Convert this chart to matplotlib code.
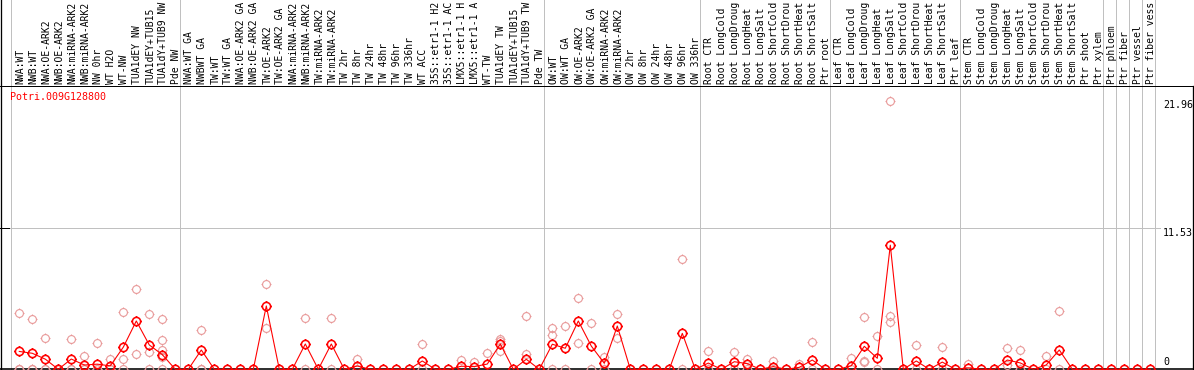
import matplotlib
matplotlib.use("Agg")
import matplotlib.pyplot as plt
from matplotlib.path import Path
import numpy as np

# ---------------- data ----------------
gene = "Potri.009G128800"

# sample labels as visible in the header (long names are cut at 14 characters)
labels = [
    "NWA:WT", "NWB:WT", "NWA:OE-ARK2", "NWB:OE-ARK2", "NWA:miRNA-ARK2", "NWB:miRNA-ARK2",
    "NW 0hr", "WT H2O", "WT-NW", "TUA1dEY NW", "TUA1dEY+TUB15", "TUA1dY+TUB9 NW", "Pde NW",
    "NWA:WT GA", "NWBWT GA", "TW:WT", "TW:WT GA", "NWA:OE-ARK2 GA", "NWB:OE-ARK2 GA",
    "TW:OE-ARK2", "TW:OE-ARK2 GA", "NWA:miRNA-ARK2", "NWB:miRNA-ARK2", "TW:miRNA-ARK2",
    "TW:miRNA-ARK2", "TW 2hr", "TW 8hr", "TW 24hr", "TW 48hr", "TW 96hr", "TW 336hr",
    "WT ACC", "35S::etr1-1 H2", "35S::etr1-1 AC", "LMX5::etr1-1 H", "LMX5::etr1-1 A",
    "WT-TW", "TUA1dEY TW", "TUA1dEY+TUB15", "TUA1dY+TUB9 TW", "Pde TW",
    "OW:WT", "OW:WT GA", "OW:OE-ARK2", "OW:OE-ARK2 GA", "OW:miRNA-ARK2", "OW:miRNA-ARK2",
    "OW 2hr", "OW 8hr", "OW 24hr", "OW 48hr", "OW 96hr", "OW 336hr",
    "Root CTR", "Root LongCold", "Root LongDroug", "Root LongHeat", "Root LongSalt",
    "Root ShortCold", "Root ShortDrou", "Root ShortHeat", "Root ShortSalt", "Ptr root",
    "Leaf CTR", "Leaf LongCold", "Leaf LongDroug", "Leaf LongHeat", "Leaf LongSalt",
    "Leaf ShortCold", "Leaf ShortDrou", "Leaf ShortHeat", "Leaf ShortSalt", "Ptr leaf",
    "Stem CTR", "Stem LongCold", "Stem LongDroug", "Stem LongHeat", "Stem LongSalt",
    "Stem ShortCold", "Stem ShortDrou", "Stem ShortHeat", "Stem ShortSalt",
    "Ptr shoot", "Ptr xylem", "Ptr phloem", "Ptr fiber", "Ptr vessel", "Ptr fiber vess",
]

means = [
    1.46, 1.31, 0.83, 0.0, 0.84, 0.35, 0.42, 0.28, 1.81, 3.95, 1.99, 1.20, 0.0,
    0.0, 1.58, 0.0, 0.0, 0.0, 0.0, 5.18, 0.0, 0.0, 2.07, 0.0, 2.07, 0.0, 0.27, 0.0, 0.0,
    0.0, 0.0, 0.68, 0.0, 0.0, 0.25, 0.22, 0.43, 2.07, 0.0, 0.82, 0.0,
    2.05, 1.72, 3.95, 1.90, 0.49, 3.54, 0.0, 0.0, 0.0, 0.0, 2.94, 0.0,
    0.51, 0.0, 0.62, 0.46, 0.0, 0.22, 0.0, 0.16, 0.76, 0.0,
    0.0, 0.29, 1.88, 0.90, 10.15, 0.0, 0.68, 0.0, 0.59, 0.0,
    0.12, 0.0, 0.0, 0.76, 0.52, 0.0, 0.36, 1.58, 0.0, 0.0, 0.0,
    0.0, 0.0, 0.0, 0.0,
]

# replicate values per sample (column index -> values)
replicates = {
    0: [4.58, 0, 0], 1: [4.09, 0, 0], 2: [2.53, 0, 0], 3: [0], 4: [2.45, 0, 0],
    5: [1.11, 0, 0], 6: [2.15, 0, 0], 7: [0.84, 0, 0], 8: [4.66, 0.84, 0],
    9: [6.54, 1.25], 10: [4.50, 1.41, 0], 11: [4.09, 2.40, 1.58, 0.98, 0],
    14: [3.19, 0, 0], 19: [6.97, 3.35], 22: [4.17, 0], 24: [4.17, 0], 26: [0.84, 0],
    31: [2.07, 0], 34: [0.76], 35: [0.63], 36: [1.36], 37: [2.48, 2.31, 1.50],
    39: [4.36, 1.23], 41: [3.35, 2.80, 0], 42: [3.54, 0], 43: [5.81, 2.12],
    44: [3.76, 0], 45: [1.03, 0], 46: [4.52, 2.53], 51: [9.00, 0], 53: [1.50, 0],
    55: [1.44, 0], 56: [0.84, 0], 58: [0.71], 60: [0.43], 61: [2.23, 0],
    64: [0.90, 0], 65: [4.30, 0.71, 0.57], 66: [2.72, 0], 67: [21.96, 4.36, 3.84],
    69: [1.96, 0], 71: [1.80, 0], 73: [0.43], 76: [1.72, 0.35], 77: [1.58, 0],
    79: [1.09, 0], 80: [4.77, 0],
}

group_starts = [0, 13, 41, 53, 63, 73, 84, 85, 86, 87, 88]
y_ticks = [0, 11.53, 21.96]

# ---------------- layout helpers ----------------
W, H = 1194, 370
X0, DX = 19.3, 13.0          # pixel x of sample 0, pixel step
Y0, PPU = 369.3, 12.23       # pixel y of value 0, pixels per unit


def X(px):
    return (px - X0) / DX


def Y(py):
    return (Y0 - py) / PPU


fig = plt.figure(figsize=(W / 100, H / 100), dpi=100)
ax = fig.add_axes([0, 0, 1, 1])
ax.set_xlim(X(0), X(W))
ax.set_ylim(Y(H), Y(0))
ax.axis("off")

PX = 0.72  # one pixel in points
grey = "#c0c0c0"
pale = "#e89898"
mono = "DejaVu Sans Mono"

# marker: circle with small outward ticks
circ = Path.circle((0, 0), 1.0)
tk = 1.28
ticks = [Path([(0, 1), (0, tk)]), Path([(0, -1), (0, -tk)]),
         Path([(1, 0), (tk, 0)]), Path([(-1, 0), (-tk, 0)])]
mk = Path.make_compound_path(circ, *ticks)

# separators (full height)
for g in group_starts:
    ax.axvline(g - 0.615, color=grey, lw=PX, zorder=1)

# gridline for middle tick
ax.plot([X(0), X(1160)], [y_ticks[1], y_ticks[1]], color=grey, lw=PX, zorder=1)

# frame lines
ax.axhline(Y(85.5), color="black", lw=PX, zorder=2)
ax.axvline(X(1), color="black", lw=1.3 * PX, zorder=2)
ax.plot([X(1193), X(1193)], [Y(86), Y(H)], color="black", lw=1.3 * PX, zorder=2)
ax.axhline(0, color="black", lw=1.6 * PX, zorder=2)
ax.plot([X(0), X(9)], [y_ticks[1], y_ticks[1]], color="black", lw=PX, zorder=2)

# replicates
rx, ry = [], []
for c, vals in replicates.items():
    for v in vals:
        rx.append(c)
        ry.append(v)
ax.plot(rx, ry, linestyle="none", marker=mk, markersize=10 * PX,
        markerfacecolor="none", markeredgecolor=pale, markeredgewidth=1.1 * PX,
        zorder=3, clip_on=False)

# mean line and markers
xs = np.arange(len(means))
ax.plot(xs, means, color="#ff0000", lw=1.1 * PX, zorder=4)
ax.plot(xs, means, linestyle="none", marker=mk, markersize=10.5 * PX,
        markerfacecolor="none", markeredgecolor="#ff0000", markeredgewidth=1.6 * PX,
        zorder=5, clip_on=False)

# header labels
for i, lab in enumerate(labels):
    ax.text(i + 0.08, Y(84), lab, rotation=90, ha="center", va="bottom",
            fontsize=7.0, family=mono, color="black", zorder=6)

# gene title
ax.text(X(10), Y(97), gene, ha="left", va="center", fontsize=7.2, family=mono,
        color="#ff0000", zorder=6)

# right axis labels
ax.text(X(1163), Y(105), f"{y_ticks[2]:.2f}", ha="left", va="center",
        fontsize=7.2, family=mono, color="black")
ax.text(X(1163), Y(233), f"{y_ticks[1]:.2f}", ha="left", va="center",
        fontsize=7.2, family=mono, color="black")
ax.text(X(1163), Y(362), f"{y_ticks[0]:g}", ha="left", va="center",
        fontsize=7.2, family=mono, color="black")

fig.savefig("out.png", dpi=100)
